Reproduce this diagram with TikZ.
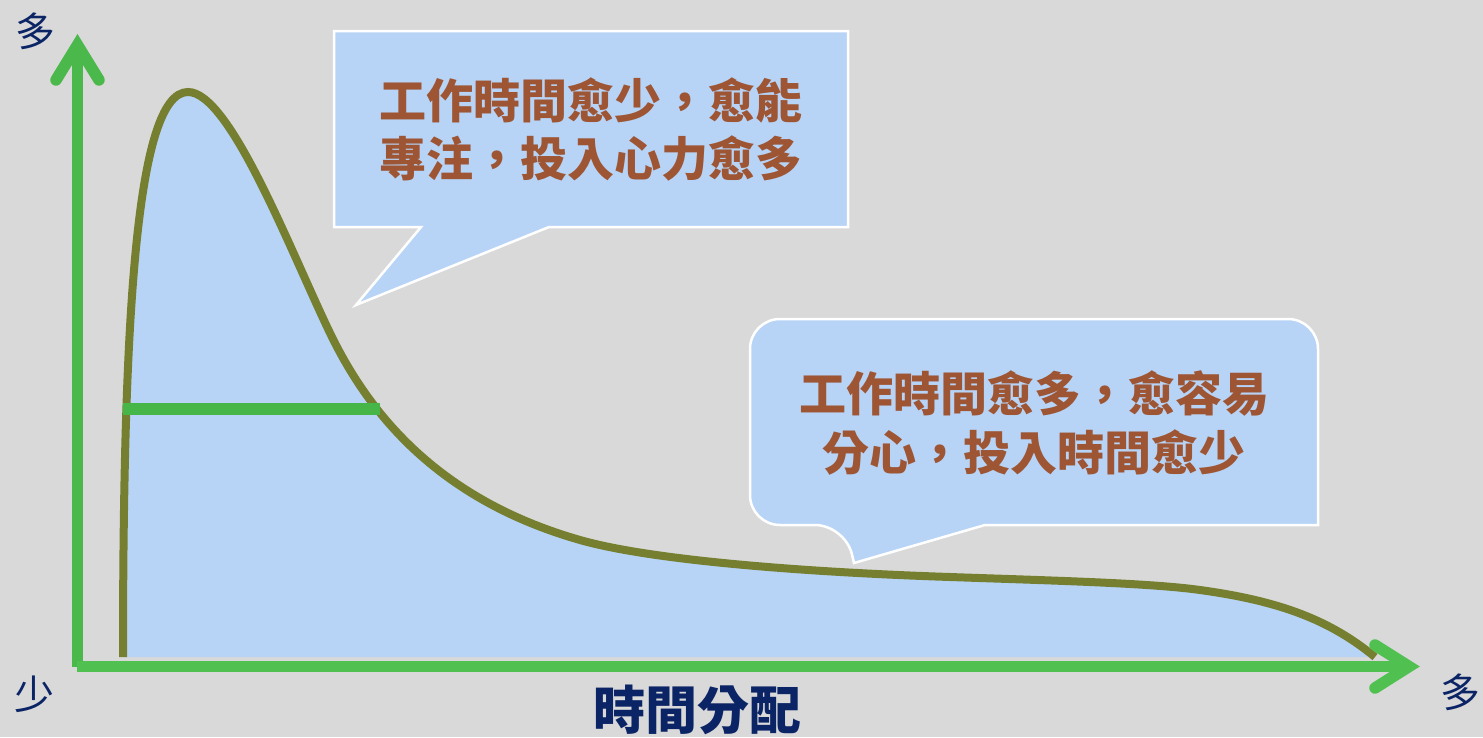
\documentclass[tikz,border=0pt]{standalone}
\usepackage{fontspec}
\newfontfamily\cjk{Noto Sans CJK TC}
\definecolor{bg}{HTML}{D9D9D9}
\definecolor{cfill}{HTML}{B7D4F7}
\definecolor{olive}{HTML}{767F30}
\definecolor{agreenv}{HTML}{4BB84B}
\definecolor{agreenh}{HTML}{50C050}
\definecolor{sgreen}{HTML}{47B649}
\definecolor{cbrown}{HTML}{9E5533}
\definecolor{navy}{HTML}{0B2465}
\tikzset{
  callout/.style={fill=cfill, draw=white, line width=2.5pt, line join=miter},
  ctext/.style={text=cbrown, font=\cjk\bfseries\fontsize{47}{58}\selectfont, anchor=base, inner sep=0pt},
  alabel/.style={text=navy, font=\cjk\fontsize{40}{48}\selectfont, anchor=base, inner sep=0pt},
  tlabel/.style={text=navy, font=\cjk\bfseries\fontsize{52}{60}\selectfont, anchor=base, inner sep=0pt},
  axisv/.style={line width=11.5pt, draw=agreenv},
  axish/.style={line width=11.5pt, draw=agreenh},
  barb/.style={line width=11.5pt, line cap=round, line join=miter},
  curvestroke/.style={draw=olive, line width=8pt},
}
\begin{document}
\begin{tikzpicture}[x=1pt,y=-1pt]
\fill[bg] (0,0) rectangle (1483,737);
\useasboundingbox (0,0) rectangle (1483,737);

% area under curve
\fill[cfill] (123,657) .. controls (123,330) and (135,92) .. (188,92)
  .. controls (230,92) and (290,250) .. (330,333)
  .. controls (370,416) and (440,500) .. (580,540)
  .. controls (650,560) and (800,572) .. (950,577)
  .. controls (1050,580.5) and (1150,583) .. (1200,590)
  .. controls (1280,601) and (1330,620) .. (1375,657) -- cycle;

% callout 1
\draw[callout] (334,31) -- (848,31) -- (848,227) -- (549,227) -- (356,305) -- (421,227) -- (334,227) -- cycle;
% callout 2
\draw[callout] (750,420) [rounded corners=30pt] -- (750,525) -- (845,525) [sharp corners] -- (854,563) -- (985,525) -- (1318,525) [rounded corners=30pt] -- (1318,319) -- (750,319) -- cycle;

% curve
\draw[curvestroke] (123,657) .. controls (123,330) and (135,92) .. (188,92)
  .. controls (230,92) and (290,250) .. (330,333)
  .. controls (370,416) and (440,500) .. (580,540)
  .. controls (650,560) and (800,572) .. (950,577)
  .. controls (1050,580.5) and (1150,583) .. (1200,590)
  .. controls (1280,601) and (1330,620) .. (1375,657);

% green level segment
\coordinate (sl) at (123,409);
\coordinate (sr) at (380,409);
\draw[line width=12pt, draw=sgreen] (sl) -- (sr);

% axes
\coordinate (o) at (77.5,666.5);
\coordinate (ytip) at (77.5,45);
\coordinate (xtip) at (1409,666.5);
\draw[axisv] (77.5,666.5) -- (ytip);
\draw[axish] (77,666.5) -- (xtip);
\draw[barb, draw=agreenv] (56,80) -- (ytip) -- (99,80);
\draw[barb, draw=agreenh] (1375,645) -- (xtip) -- (1375,688);

% texts
\node[ctext] (c1a) at (591,118) {工作時間愈少，愈能};
\node[ctext] (c1b) at (591,176) {專注，投入心力愈多};
\node[ctext] (c2a) at (1034,411) {工作時間愈多，愈容易};
\node[ctext] (c2b) at (1034,470) {分心，投入時間愈少};

\node[alabel] (ymax) at (35,46) {多};
\node[alabel] (omin) at (34,709) {少};
\node[alabel] (xmax) at (1460,707) {多};
\node[tlabel] (xt) at (697,729) {時間分配};
\end{tikzpicture}
\end{document}
